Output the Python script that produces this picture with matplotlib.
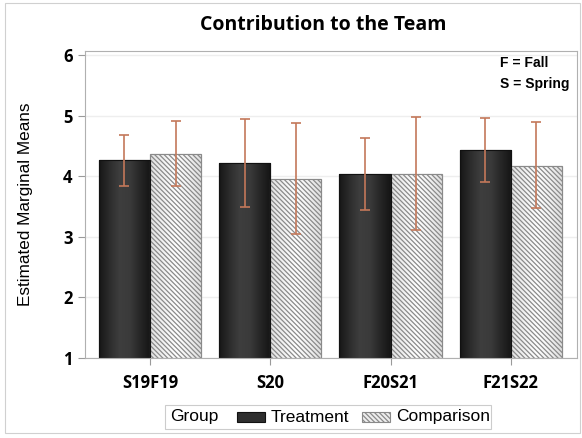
import numpy as np
import matplotlib
matplotlib.use("Agg")
import matplotlib.pyplot as plt
from matplotlib.patches import Rectangle
from matplotlib.colors import LinearSegmentedColormap

categories = ["S19F19", "S20", "F20S21", "F21S22"]
treatment = [4.26, 4.22, 4.04, 4.44]
treatment_lo = [3.84, 3.49, 3.44, 3.91]
treatment_hi = [4.68, 4.95, 4.64, 4.97]
comparison = [4.37, 3.96, 4.04, 4.17]
comparison_lo = [3.84, 3.04, 3.11, 3.47]
comparison_hi = [4.92, 4.88, 4.98, 4.89]
yticks = [1, 2, 3, 4, 5, 6]

HATCH = '\\' * 7

plt.rcParams['hatch.linewidth'] = 0.9
plt.rcParams['hatch.color'] = '#a0a0a0'

fig = plt.figure(figsize=(5.82, 4.38), dpi=100)
ax = fig.add_axes([85/582, 1-357.7/438, (577-85)/582, (357.7-51)/438])

x = np.arange(len(categories))
w = 0.425
err_color = '#c3785a'

dark_cmap = LinearSegmentedColormap.from_list('dk', ['#161616', '#2c2c2c', '#3e3e3e', '#3a3a3a', '#262626', '#141414'])
grad = np.linspace(0, 1, 256).reshape(1, -1)

tbars = ax.bar(x - w/2, np.array(treatment) - 1, w, bottom=1, color='#2a2a2a',
               edgecolor='#111111', linewidth=0.8, zorder=2)
for b in tbars:
    im = ax.imshow(grad, cmap=dark_cmap, aspect='auto', zorder=2.1,
                   extent=[b.get_x(), b.get_x() + b.get_width(), b.get_y(), b.get_y() + b.get_height()])
    im.set_clip_path(b)
    ax.add_patch(Rectangle((b.get_x(), b.get_y()), b.get_width(), b.get_height(),
                           fill=False, edgecolor='#111111', linewidth=0.8, zorder=2.2))

light_cmap = LinearSegmentedColormap.from_list('lt', ['#e0e0e0', '#f2f2f2', '#ffffff', '#f2f2f2', '#dcdcdc'])
cbars = ax.bar(x + w/2, np.array(comparison) - 1, w, bottom=1, color='#f4f4f4',
               edgecolor='#8a8a8a', linewidth=0.8, zorder=2)
for b in cbars:
    im = ax.imshow(grad, cmap=light_cmap, aspect='auto', zorder=2.05,
                   extent=[b.get_x(), b.get_x() + b.get_width(), b.get_y(), b.get_y() + b.get_height()])
    im.set_clip_path(b)
    ax.add_patch(Rectangle((b.get_x(), b.get_y()), b.get_width(), b.get_height(),
                           fill=False, hatch=HATCH, edgecolor='#8a8a8a', linewidth=0.8, zorder=2.1))

t = np.array(treatment); c = np.array(comparison)
ax.errorbar(x - w/2, t, yerr=[t - np.array(treatment_lo), np.array(treatment_hi) - t],
            fmt='none', ecolor=err_color, elinewidth=1.2, capsize=3.3, capthick=1.2, zorder=3)
ax.errorbar(x + w/2, c, yerr=[c - np.array(comparison_lo), np.array(comparison_hi) - c],
            fmt='none', ecolor=err_color, elinewidth=1.2, capsize=3.3, capthick=1.2, zorder=3)

ax.set_xlim(-0.54, 3.55)
ax.set_ylim(1, 6.07)
ax.set_yticks(yticks)
ax.set_xticks(x)
ax.set_xticklabels(categories, fontfamily='Open Sans', fontweight='bold', fontsize=12)
ax.set_yticklabels([str(v) for v in yticks], fontfamily='Open Sans', fontweight='bold', fontsize=12)
ax.yaxis.grid(True, color='#eeeeee', linewidth=1, zorder=0)
ax.set_axisbelow(True)
for s in ax.spines.values():
    s.set_color('#b0b0b0')
    s.set_linewidth(0.8)
ax.tick_params(axis='both', colors='#9a9a9a', length=5, width=0.8, labelcolor='black', pad=4)
ax.tick_params(axis='x', pad=7)

ax.set_ylabel('Estimated Marginal Means', fontfamily='Liberation Sans', fontsize=12.3)
ax.yaxis.set_label_coords(-(85-33)/492, (357.7-204)/306.7)

fig.text(323/582, 1-25/438, 'Contribution to the Team', fontfamily='Open Sans',
         fontweight='bold', fontsize=14, ha='center', va='center')

fig.text(500/582, 1-56/438, 'F = Fall\nS = Spring', ha='left', va='top', multialignment='left',
         fontfamily='Liberation Sans', fontweight='bold', fontsize=10, linespacing=1.6)

# legend
fig.patches.append(Rectangle((165/582, 1-429/438), (491-165)/582, (429-405)/438,
                             transform=fig.transFigure, fill=False, edgecolor='#cccccc', linewidth=0.8))
ly = 1 - 417/438
fig.text(170/582, ly, 'Group', fontfamily='Liberation Sans', fontsize=12.5, ha='left', va='center')
h1 = Rectangle((237/582, ly - 5/438), 28/582, 10/438, transform=fig.transFigure,
               facecolor='#2e2e2e', edgecolor='#111111', linewidth=0.8)
fig.patches.append(h1)
fig.text(271/582, ly, 'Treatment', fontfamily='Liberation Sans', fontsize=12.5, ha='left', va='center')
h2 = Rectangle((362/582, ly - 5/438), 28/582, 10/438, transform=fig.transFigure,
               facecolor='#eeeeee', edgecolor='#8a8a8a', hatch=HATCH, linewidth=0.8)
fig.patches.append(h2)
fig.text(396/582, ly, 'Comparison', fontfamily='Liberation Sans', fontsize=12.5, ha='left', va='center')

# outer border
fig.patches.append(Rectangle((5/582, 1-433/438), (580-5)/582, (433-3)/438, transform=fig.transFigure,
                             fill=False, edgecolor='#d0d0d0', linewidth=0.8))

fig.savefig('out.png', dpi=100)
